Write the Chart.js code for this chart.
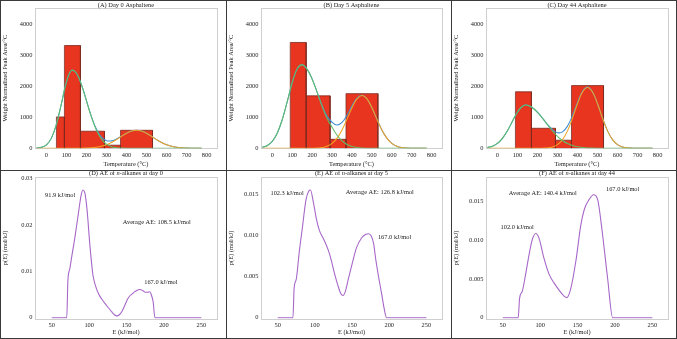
<!DOCTYPE html>
<html>
<head>
<meta charset="utf-8">
<script src="https://cdn.jsdelivr.net/npm/chart.js@4.4.1/dist/chart.umd.min.js"></script>
<style>
  body { margin: 0; background: #fff; }
  #fig { position: relative; width: 677px; height: 339px; overflow: hidden; background: #fff; }
  .cell { position: absolute; }
  .rule { position: absolute; background: #3a3a3a; }
</style>
</head>
<body>
<div id="fig">
  <div class="cell" style="left:0;top:0"><canvas id="chartA" width="226" height="170"></canvas></div>
  <div class="cell" style="left:226px;top:0"><canvas id="chartB" width="225" height="170"></canvas></div>
  <div class="cell" style="left:451px;top:0"><canvas id="chartC" width="226" height="170"></canvas></div>
  <div class="cell" style="left:0;top:170px"><canvas id="chartD" width="226" height="169"></canvas></div>
  <div class="cell" style="left:226px;top:170px"><canvas id="chartE" width="225" height="169"></canvas></div>
  <div class="cell" style="left:451px;top:170px"><canvas id="chartF" width="226" height="169"></canvas></div>

  <div class="rule" style="left:0;top:0;width:677px;height:1px"></div>
  <div class="rule" style="left:0;top:338px;width:677px;height:1px"></div>
  <div class="rule" style="left:0;top:0;width:1px;height:339px"></div>
  <div class="rule" style="left:676px;top:0;width:1px;height:339px"></div>
  <div class="rule" style="left:226px;top:0;width:1px;height:339px"></div>
  <div class="rule" style="left:451px;top:0;width:1px;height:339px"></div>
  <div class="rule" style="left:0;top:170px;width:677px;height:1px"></div>
</div>

<script>
// ---- data: asphaltene pyrolysis (top row) ----
var binEdges = [50, 90, 170, 290, 370, 530];
var barsA = [1010, 3310, 550, 100, 580];
var barsB = [0, 3410, 1690, 290, 1760];
var barsC = [0, 1820, 645, 260, 2020];

var tempGrid = [-50, -25, 0, 25, 50, 75, 100, 125, 150, 175, 200, 225, 250, 275, 300, 325, 350,
                375, 400, 425, 450, 475, 500, 525, 550, 575, 600, 625, 650, 675, 700, 725, 750, 775];

var greenA  = [6, 30, 111, 328, 772, 1441, 2134, 2508, 2419, 2050, 1528, 1003, 580, 295, 132, 52, 18,
               6, 0, 0, 0, 0, 0, 0, 0, 0, 0, 0, 0, 0, 0, 0, 0, 0];
var orangeA = [0, 0, 0, 0, 0, 0, 0, 0, 0, 0, 6, 15, 32, 63, 114, 187, 281,
               386, 484, 554, 580, 554, 484, 386, 281, 187, 114, 63, 32, 15, 6, 2, 1, 0];
var blueA   = [6, 30, 111, 328, 772, 1441, 2134, 2508, 2419, 2050, 1534, 1018, 612, 358, 246, 239, 299,
               392, 484, 554, 580, 554, 484, 386, 281, 187, 114, 63, 32, 15, 6, 2, 1, 0];

var greenB  = [31, 90, 227, 494, 930, 1511, 2120, 2566, 2688, 2543, 2227, 1803, 1351, 960, 680, 420, 240,
               125, 60, 25, 10, 3, 0, 0, 0, 0, 0, 0, 0, 0, 0, 0, 0, 0];
var orangeB = [0, 0, 0, 0, 0, 0, 0, 0, 0, 0, 2, 8, 25, 68, 159, 328, 593,
               940, 1307, 1592, 1700, 1592, 1307, 940, 593, 328, 159, 68, 25, 8, 2, 0, 0, 0];
var blueB   = [31, 90, 227, 494, 930, 1511, 2120, 2566, 2688, 2543, 2229, 1811, 1376, 1028, 839, 748, 833,
               1065, 1367, 1617, 1710, 1595, 1307, 940, 593, 328, 159, 68, 25, 8, 2, 0, 0, 0];

var greenC  = [25, 67, 157, 320, 565, 869, 1164, 1356, 1389, 1307, 1161, 969, 759, 559, 386, 251, 153,
               88, 47, 24, 11, 5, 2, 0, 0, 0, 0, 0, 0, 0, 0, 0, 0, 0];
var orangeC = [0, 0, 0, 0, 0, 0, 0, 0, 0, 0, 1, 4, 13, 43, 118, 278, 562,
               970, 1434, 1813, 1960, 1813, 1434, 970, 562, 278, 118, 43, 13, 4, 1, 0, 0, 0];
var blueC   = [25, 67, 157, 320, 565, 869, 1164, 1356, 1389, 1307, 1162, 973, 772, 602, 504, 529, 715,
               1058, 1481, 1837, 1971, 1818, 1436, 970, 562, 278, 118, 43, 13, 4, 1, 0, 0, 0];

var tempTicks = [0, 100, 200, 300, 400, 500, 600, 700, 800];
var areaTicks = [0, 1000, 2000, 3000, 4000];
var areaLabels = ['0', '1000', '2000', '3000', '4000'];

// ---- data: activation energy of n-alkanes (bottom row) ----
var energyD  = [50, 70, 71.5, 74, 77, 81, 85.5, 89, 91.5, 94, 97, 101, 105, 109, 113, 117, 121, 126,
                130, 134, 137, 140, 144, 148, 152, 158, 163, 168, 172, 175, 178, 181, 183, 185.5, 188, 250];
var densityD = [0, 0, 0.008, 0.0105, 0.0135, 0.0174, 0.0224, 0.0262, 0.0275, 0.027, 0.0235, 0.0155, 0.0092,
                0.0066, 0.005, 0.004, 0.0031, 0.0021, 0.0013, 0.0006, 0.0004, 0.0006, 0.0014, 0.0028, 0.0042,
                0.0052, 0.0058, 0.0061, 0.0058, 0.0055, 0.0055, 0.0056, 0.005, 0.0035, 0, 0];

var energyE  = [50, 70.5, 72, 75, 79, 83, 88, 92, 94, 98, 102, 106, 112, 118, 122, 126, 131, 135, 138,
                141, 145, 150, 156, 163, 168, 172, 176, 179, 182, 186, 190, 193, 196.5, 250];
var densityE = [0, 0, 0.0035, 0.0047, 0.008, 0.0108, 0.0143, 0.0154, 0.0155, 0.014, 0.012, 0.0106, 0.0095,
                0.0082, 0.007, 0.0055, 0.0039, 0.0029, 0.0027, 0.0032, 0.0047, 0.0065, 0.0085, 0.0097,
                0.0101, 0.0102, 0.0099, 0.009, 0.007, 0.0048, 0.0028, 0.0012, 0, 0];

var energyF  = [50, 70.6, 72.4, 76, 80.5, 85, 89.4, 94, 98.4, 105, 112, 118.5, 125, 132, 135.6, 141,
                147.7, 154.4, 159, 165.6, 171.4, 176.8, 183.5, 190.2, 197, 250];
var densityF = [0, 0, 0.0025, 0.0034, 0.0056, 0.0081, 0.0101, 0.0109, 0.0103, 0.0077, 0.0056, 0.0045,
                0.0036, 0.0028, 0.0026, 0.0038, 0.0073, 0.012, 0.014, 0.0153, 0.0159, 0.0153, 0.0107,
                0.0051, 0, 0];

var energyTicks = [50, 100, 150, 200, 250];
var ticksD = [0, 0.01, 0.02, 0.03];
var labelsD = ['0', '0.01', '0.02', '0.03'];
var ticksEF = [0, 0.005, 0.01, 0.015];
var labelsEF = ['0', '0.005', '0.010', '0.015'];

var SERIF = '"Liberation Serif", "Times New Roman", serif';
var FONT_PX = 6.4;
var tickFont = { family: SERIF, size: FONT_PX };
var titleFont = { family: SERIF, size: FONT_PX };

// frame, panel title and text notes
var panelDecor = {
  id: 'panelDecor',
  beforeDatasetsDraw: function(chart) {
    var a = chart.chartArea, ctx = chart.ctx;
    ctx.save();
    ctx.strokeStyle = '#cfcfcf';
    ctx.lineWidth = 1;
    ctx.strokeRect(Math.round(a.left) + 0.5, Math.round(a.top) + 0.5,
                   Math.round(a.right - a.left), Math.round(a.bottom - a.top));
    ctx.restore();
  },
  afterDraw: function(chart) {
    var o = chart.options.plugins.panelDecor;
    var a = chart.chartArea, ctx = chart.ctx;
    ctx.save();
    ctx.fillStyle = '#1a1a1a';
    ctx.textBaseline = 'middle';
    ctx.textAlign = 'left';
    // title, pieces may be italic
    var total = 0;
    o.title.forEach(function(p) {
      ctx.font = (p[1] ? 'italic ' : '') + FONT_PX + 'px ' + SERIF;
      total += ctx.measureText(p[0]).width;
    });
    var x = (a.left + a.right) / 2 - total / 2;
    o.title.forEach(function(p) {
      ctx.font = (p[1] ? 'italic ' : '') + FONT_PX + 'px ' + SERIF;
      ctx.fillText(p[0], x, o.titleY);
      x += ctx.measureText(p[0]).width;
    });
    // notes in data coordinates
    ctx.font = FONT_PX + 'px ' + SERIF;
    (o.notes || []).forEach(function(n) {
      ctx.fillText(n.text, chart.scales.x.getPixelForValue(n.x), chart.scales.y.getPixelForValue(n.y));
    });
    ctx.restore();
  }
};

function pts(xs, ys) {
  return xs.map(function(x, i) { return { x: x, y: ys[i] }; });
}

function xScale(min, max, ticks, title, h, padBottom) {
  return {
    type: 'linear', min: min, max: max,
    afterBuildTicks: function(s) { s.ticks = ticks.map(function(v) { return { value: v }; }); },
    afterFit: function(s) { s.height = h; },
    grid: { display: false, drawTicks: false },
    border: { display: false },
    ticks: { font: tickFont, color: '#222', padding: 3, maxRotation: 0, autoSkip: false },
    title: { display: true, text: title, font: titleFont, color: '#222', padding: { top: 0, bottom: padBottom } }
  };
}

function yScale(min, max, ticks, labels, title) {
  return {
    type: 'linear', min: min, max: max,
    afterBuildTicks: function(s) { s.ticks = ticks.map(function(v) { return { value: v }; }); },
    afterFit: function(s) { s.width = 35; },
    grid: { display: false, drawTicks: false },
    border: { display: false },
    ticks: { font: tickFont, color: '#222', padding: 2.5, autoSkip: false,
             callback: function(v, i) { return labels[i]; } },
    title: { display: true, text: title, font: titleFont, color: '#222', padding: { top: 1, bottom: 0 } }
  };
}

function curve(ys, color, order) {
  return { data: pts(tempGrid, ys), borderColor: color, borderWidth: 1.05, tension: 0.4,
           pointRadius: 0, fill: false, order: order };
}

function topChart(id, title, bars, green, orange, blue) {
  var datasets = [curve(green, '#62bd68', 0), curve(orange, '#f3a423', 0), curve(blue, '#3d90d8', 1)];
  bars.forEach(function(h, i) {
    if (!h) return;
    datasets.push({
      data: pts([binEdges[i], binEdges[i], binEdges[i + 1], binEdges[i + 1]], [0, h, h, 0]),
      fill: 'origin', backgroundColor: '#e8351f', borderColor: '#7c2a20', borderWidth: 0.8,
      tension: 0, pointRadius: 0, order: 2
    });
  });
  new Chart(document.getElementById(id), {
    type: 'line',
    data: { datasets: datasets },
    plugins: [panelDecor],
    options: {
      responsive: false, animation: false,
      layout: { padding: { top: 8, right: 9, left: 0, bottom: 0 } },
      plugins: { legend: { display: false }, tooltip: { enabled: false },
                 panelDecor: { title: title, titleY: 5 } },
      scales: {
        x: xScale(-57, 852, tempTicks, 'Temperature (\u00B0C)', 21.7, 2.3),
        y: yScale(0, 4520, areaTicks, areaLabels, 'Weight Normalized Peak Area/\u00B0C')
      }
    }
  });
}

function bottomChart(id, title, xs, ys, yMin, yMax, ticks, labels, notes) {
  new Chart(document.getElementById(id), {
    type: 'line',
    data: { datasets: [{ data: pts(xs, ys), borderColor: '#a767c8', borderWidth: 1.1,
                         cubicInterpolationMode: 'monotone', pointRadius: 0, fill: false }] },
    plugins: [panelDecor],
    options: {
      responsive: false, animation: false,
      layout: { padding: { top: 7, right: 9, left: 0, bottom: 0 } },
      plugins: { legend: { display: false }, tooltip: { enabled: false },
                 panelDecor: { title: title, titleY: 3.8, notes: notes } },
      scales: {
        x: xScale(27.5, 271, energyTicks, 'E (kJ/mol)', 20.3, 2.8),
        y: yScale(yMin, yMax, ticks, labels, 'p(E) (mol/kJ)')
      }
    }
  });
}

topChart('chartA', [['(A) Day 0 Asphaltene', false]], barsA, greenA, orangeA, blueA);
topChart('chartB', [['(B) Day 5 Asphaltene', false]], barsB, greenB, orangeB, blueB);
topChart('chartC', [['(C) Day 44 Asphaltene', false]], barsC, greenC, orangeC, blueC);

bottomChart('chartD', [['(D) AE of ', false], ['n', true], ['-alkanes at day 0', false]],
  energyD, densityD, -0.0002, 0.0303, ticksD, labelsD,
  [{ text: '91.9 kJ/mol', x: 41, y: 0.0264 },
   { text: 'Average AE: 108.5 kJ/mol', x: 145, y: 0.0206 },
   { text: '167.0 kJ/mol', x: 173.6, y: 0.0077 }]);

bottomChart('chartE', [['(E) AE of ', false], ['n', true], ['-alkanes at day 5', false]],
  energyE, densityE, -0.00012, 0.01708, ticksEF, labelsEF,
  [{ text: '102.3 kJ/mol', x: 40.2, y: 0.01505 },
   { text: 'Average AE: 126.8 kJ/mol', x: 141.6, y: 0.01525 },
   { text: '167.0 kJ/mol', x: 184.8, y: 0.0098 }]);

bottomChart('chartF', [['(F) AE of ', false], ['n', true], ['-alkanes at day 44', false]],
  energyF, densityF, -0.00013, 0.0182, ticksEF, labelsEF,
  [{ text: 'Average AE: 140.4 kJ/mol', x: 58, y: 0.0161 },
   { text: '167.0 kJ/mol', x: 188, y: 0.01655 },
   { text: '102.0 kJ/mol', x: 46.9, y: 0.01173 }]);
</script>
</body>
</html>
